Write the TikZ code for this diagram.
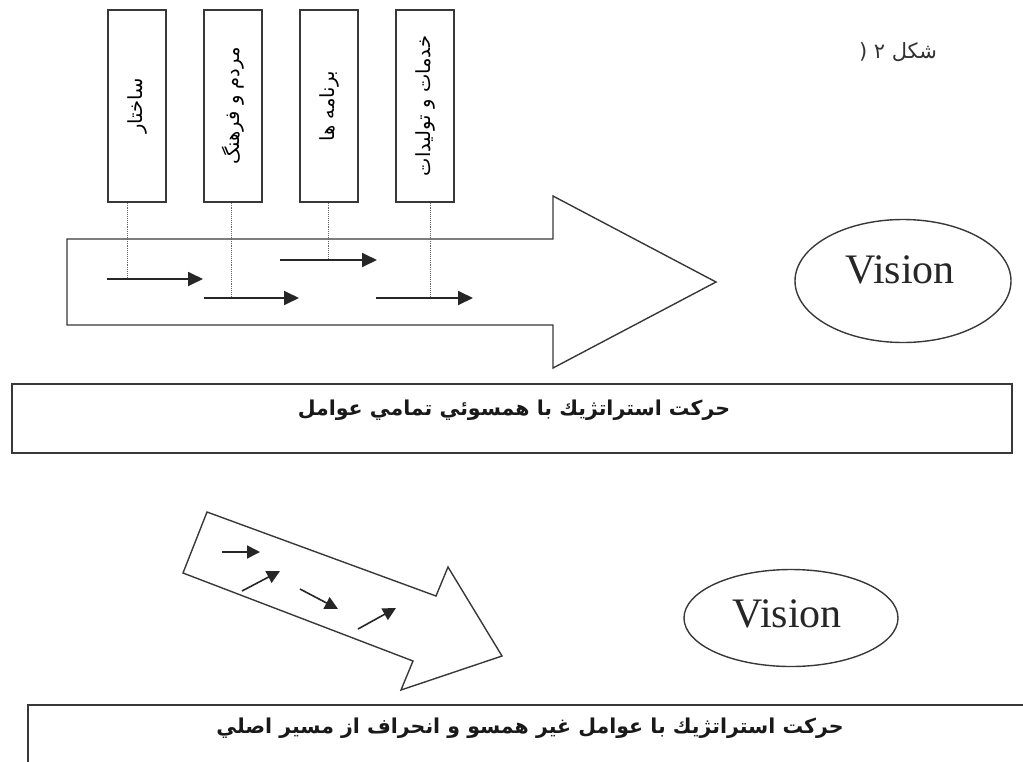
\documentclass[tikz,border=0pt]{standalone}
\usepackage{fontspec}
\usetikzlibrary{arrows.meta,shapes.geometric}
\TeXXeTstate=1
\setmainfont{Liberation Serif}
\newfontfamily\arabicfont[Script=Arabic]{DejaVu Sans}
\begin{document}
\begin{tikzpicture}[x=1pt,y=-1pt,
  frame/.style={draw=black!78, line width=1.4pt},
  factor/.style={frame, rotate=90, minimum width=192pt, minimum height=58pt, inner sep=0pt,
    font=\arabicfont\fontsize{19.5}{22}\selectfont},
  guide/.style={draw=black!60, line width=0.9pt, densely dotted},
  move/.style={draw=black!85, line width=1.8pt, -{Triangle[length=15pt,width=14pt]}},
  smallmove/.style={draw=black!85, line width=1.6pt, -{Triangle[length=13pt,width=13pt]}},
  goal/.style={frame, ellipse, inner sep=0pt},
  visiontext/.style={font=\fontsize{42}{42}\selectfont, text=black!85, inner sep=0pt},
  bandbox/.style={frame, rectangle, inner sep=0pt},
  bandtext/.style={font=\arabicfont\bfseries\fontsize{20.5}{22}\selectfont, text=black!90, inner sep=0pt},
  captiontext/.style={font=\arabicfont\fontsize{21}{24}\selectfont, text=black!80, inner sep=0pt}
]
\path[use as bounding box] (0,0) rectangle (1023,761);
\clip (0,0) rectangle (1023,761);

% caption
\node[captiontext] (cap) at (898,52) {\beginR شکل ۲ (\endR};

% factor boxes
\node[factor] (f1) at (137,106) {\beginR ساختار\endR};
\node[factor] (f2) at (233,106) {\beginR مردم و فرهنگ\endR};
\node[factor] (f3) at (329,106) {\beginR برنامه ها\endR};
\node[factor] (f4) at (425,106) {\beginR خدمات و توليدات\endR};

% big aligned arrow
\draw[frame] (67,239) -- (553,239) -- (553,196) -- (716,282) -- (553,368) -- (553,325) -- (67,325) -- cycle;

% small arrows inside
\coordinate (a1s) at (107,279); \coordinate (a1e) at (203,279); \coordinate (g1) at (127,279);
\coordinate (a2s) at (204,298); \coordinate (a2e) at (299,298); \coordinate (g2) at (231,298);
\coordinate (a3s) at (280,260); \coordinate (a3e) at (377,260); \coordinate (g3) at (328,260);
\coordinate (a4s) at (376,298); \coordinate (a4e) at (473,298); \coordinate (g4) at (430,298);
\draw[guide] (f1.west -| g1) -- (g1);
\draw[guide] (f2.west -| g2) -- (g2);
\draw[guide] (f3.west -| g3) -- (g3);
\draw[guide] (f4.west -| g4) -- (g4);
\draw[move] (a1s) -- (a1e);
\draw[move] (a2s) -- (a2e);
\draw[move] (a3s) -- (a3e);
\draw[move] (a4s) -- (a4e);

% vision 1
\node[goal, minimum width=216pt, minimum height=123pt] (v1) at (903,281) {};
\node[visiontext] (v1t) at (900,270) {Vision};

% band 1
\node[bandbox, minimum width=1000pt, minimum height=69pt] (b1) at (512,418.5) {};
\node[bandtext] (b1t) at (514,410) {\beginR حركت استراتژيك با همسوئي تمامي عوامل\endR};

% deviating arrow
\draw[frame] (207,512) -- (436,596) -- (448,567) -- (502,656) -- (401,690) -- (413,661) -- (183,573) -- cycle;
\coordinate (c1s) at (222,552); \coordinate (c1e) at (260,552);
\coordinate (c2s) at (242,591); \coordinate (c2e) at (280,571);
\coordinate (c3s) at (300,589); \coordinate (c3e) at (338,609);
\coordinate (c4s) at (358,629); \coordinate (c4e) at (396,608);
\draw[smallmove] (c1s) -- (c1e);
\draw[smallmove] (c2s) -- (c2e);
\draw[smallmove] (c3s) -- (c3e);
\draw[smallmove] (c4s) -- (c4e);

% vision 2
\node[goal, minimum width=214pt, minimum height=97pt] (v2) at (791,618) {};
\node[visiontext] (v2t) at (787,614) {Vision};

% band 2
\draw[frame] (28,705) rectangle (1040,775);
\node[bandtext] (b2t) at (530,728) {\beginR حركت استراتژيك با عوامل غير همسو و انحراف از مسير اصلي\endR};
\end{tikzpicture}
\end{document}
